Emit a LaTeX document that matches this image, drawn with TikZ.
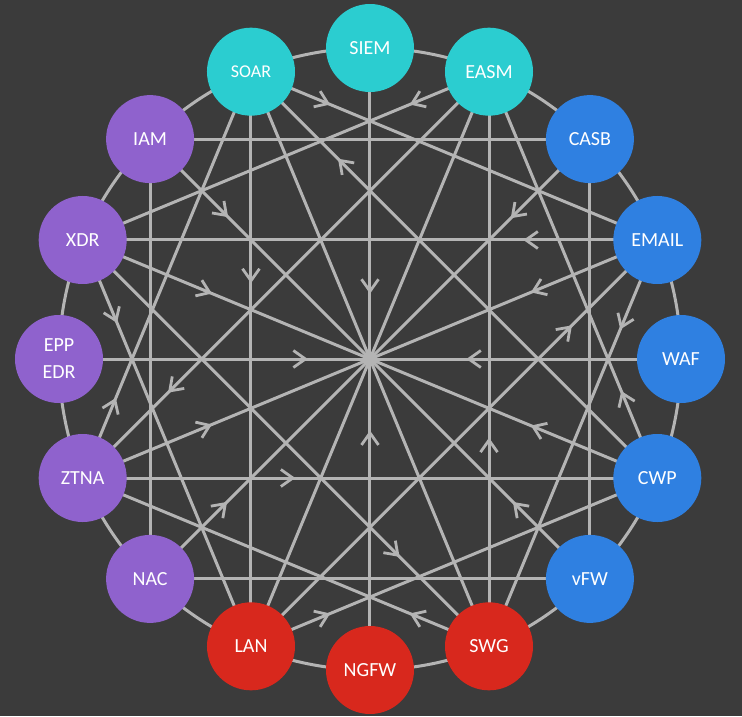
\documentclass[tikz,border=0pt]{standalone}
\usepackage{fontspec}
\setmainfont{Carlito}
\usetikzlibrary{arrows.meta,decorations.markings}
\definecolor{bgc}{HTML}{3B3B3B}
\definecolor{ln}{HTML}{B4B4B4}
\definecolor{cy}{HTML}{2BCDD0}
\definecolor{bl}{HTML}{2F80E1}
\definecolor{rd}{HTML}{D8281D}
\definecolor{pu}{HTML}{8F62CD}
\pgfdeclarelayer{bglayer}
\pgfdeclarelayer{edgelayer}
\pgfsetlayers{bglayer,edgelayer,main}
\tikzset{
  hubnode/.style={circle, minimum size=88pt, inner sep=0pt, text=white, font=\fontsize{20}{27}\selectfont, align=center},
  link/.style={draw=ln, line width=3pt},
  arr/.style={postaction={decorate, decoration={markings, mark=at position #1 with {\arrow[color=ln, line width=2.8pt]{Straight Barb[length=12pt,width=17pt]}}}}}
}
\begin{document}
\begin{tikzpicture}[x=1pt, y=1pt]
\useasboundingbox (-370,-357) rectangle (372,359);
\begin{pgfonlayer}{bglayer}
\fill[bgc] (-370,-357) rectangle (372,359);
\end{pgfonlayer}
\coordinate (hub) at (0,0);
\node[hubnode, fill=cy] (siem) at (90:311) {SIEM};
\node[hubnode, fill=cy] (easm) at (67.5:311) {EASM};
\node[hubnode, fill=bl] (casb) at (45:311) {CASB};
\node[hubnode, fill=bl] (email) at (22.5:311) {EMAIL};
\node[hubnode, fill=bl] (waf) at (0:311) {WAF};
\node[hubnode, fill=bl] (cwp) at (-22.5:311) {CWP};
\node[hubnode, fill=bl] (vfw) at (-45:311) {vFW};
\node[hubnode, fill=rd] (swg) at (-67.5:311) {SWG};
\node[hubnode, fill=rd] (ngfw) at (-90:311) {NGFW};
\node[hubnode, fill=rd] (lan) at (-112.5:311) {LAN};
\node[hubnode, fill=pu] (nac) at (-135:311) {NAC};
\node[hubnode, fill=pu] (ztna) at (-157.5:311) {ZTNA};
\node[hubnode, fill=pu] (epp) at (180:311) {EPP\\EDR};
\node[hubnode, fill=pu] (xdr) at (157.5:311) {XDR};
\node[hubnode, fill=pu] (iam) at (135:311) {IAM};
\node[hubnode, fill=cy, font=\fontsize{18}{22}\selectfont] (soar) at (112.5:311) {SOAR};
\begin{pgfonlayer}{edgelayer}
\draw[link] (hub) circle[radius=311];
% spokes
\draw[link, arr=0.79] (siem.center) -- (hub);
\draw[link] (easm.center) -- (hub);
\draw[link, arr=0.36] (casb.center) -- (hub);
\draw[link, arr=0.44] (email.center) -- (hub);
\draw[link, arr=0.69] (waf.center) -- (hub);
\draw[link, arr=0.44] (cwp.center) -- (hub);
\draw[link, arr=0.35] (vfw.center) -- (hub);
\draw[link] (swg.center) -- (hub);
\draw[link, arr=0.77] (ngfw.center) -- (hub);
\draw[link] (lan.center) -- (hub);
\draw[link, arr=0.35] (nac.center) -- (hub);
\draw[link, arr=0.45] (ztna.center) -- (hub);
\draw[link, arr=0.80] (epp.center) -- (hub);
\draw[link, arr=0.45] (xdr.center) -- (hub);
\draw[link, arr=0.355] (iam.center) -- (hub);
\draw[link] (soar.center) -- (hub);
% square
\draw[link] (iam.center) -- (casb.center);
\draw[link] (casb.center) -- (vfw.center);
\draw[link] (vfw.center) -- (nac.center);
\draw[link] (nac.center) -- (iam.center);
% chords
\draw[link, arr=0.195] (soar.center) -- (email.center);
\draw[link, arr=0.195] (easm.center) -- (xdr.center);
\draw[link, arr=0.786] (cwp.center) -- (soar.center);
\draw[link, arr=0.368] (soar.center) -- (lan.center);
\draw[link, arr=0.204] (xdr.center) -- (lan.center);
\draw[link, arr=0.79] (easm.center) -- (ztna.center);
\draw[link, arr=0.197] (ztna.center) -- (soar.center);
\draw[link, arr=0.37] (ztna.center) -- (cwp.center);
\draw[link, arr=0.233] (email.center) -- (xdr.center);
\draw[link, arr=0.22] (email.center) -- (swg.center);
\draw[link, arr=0.79] (lan.center) -- (email.center);
\draw[link, arr=0.214] (cwp.center) -- (easm.center);
\draw[link, arr=0.363] (swg.center) -- (easm.center);
\draw[link, arr=0.78] (xdr.center) -- (swg.center);
\draw[link, arr=0.195] (swg.center) -- (ztna.center);
\draw[link, arr=0.195] (lan.center) -- (cwp.center);
\end{pgfonlayer}
\end{tikzpicture}
\end{document}
